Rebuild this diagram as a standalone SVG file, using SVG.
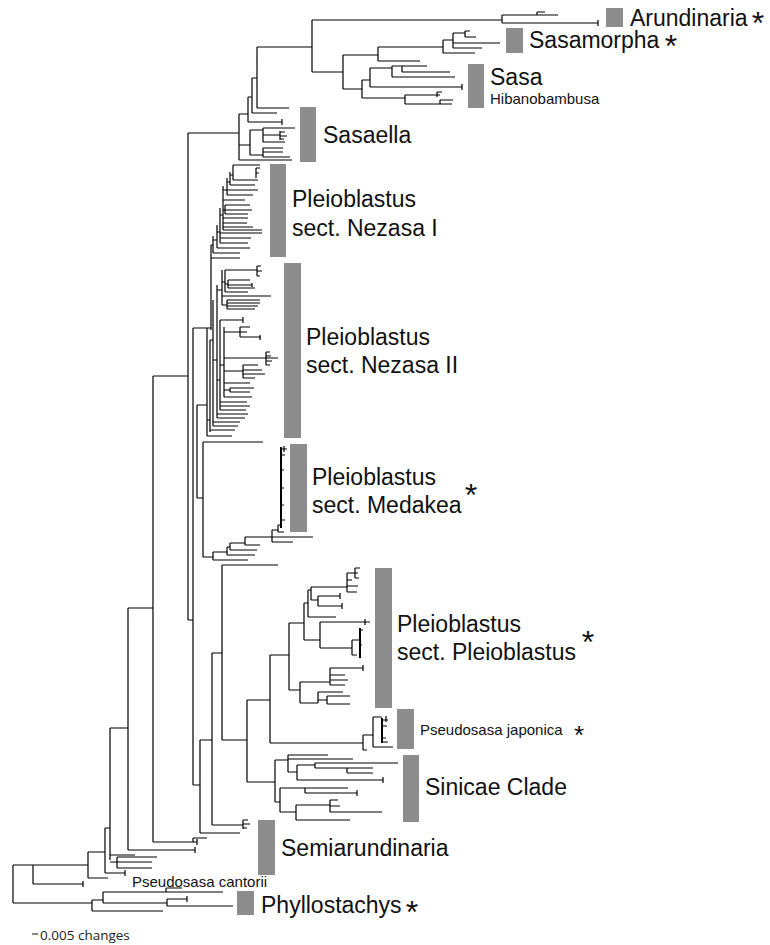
<svg xmlns="http://www.w3.org/2000/svg" width="770" height="945" viewBox="0 0 770 945">
<style>
.t{font-family:"Liberation Sans",Arial,sans-serif;font-size:23px;fill:#111}
.s{font-size:15px}
.a{font-size:32px;text-anchor:middle}
.bar{fill:#8c8c8c}
.tr{fill:none;stroke:#000;stroke-width:1.2}
.tk{fill:none;stroke:#000;stroke-width:2}
</style>
<rect width="770" height="945" fill="#fff"/>
<g id="connectors">
<path class="tr" d="M188 133H239M239 114V160M239 114H248M239 145H250M239 160H292M248 97V122M248 122H282M282 119V125M248 97H252M252 78V113M252 113H277M252 78H257M257 47V108M257 108H289M257 47H312M312 20V72M312 20H502M502 15V23M502 15H558M537 12V15M537 12H545M502 23H598M598 20V26M312 72H343M343 55V89M343 55H378M378 47V61M378 47H443M378 61H420M443 40V53M443 40H453M443 53H475M453 33V48M453 33H465M453 43H500M453 48H482M465 31V37M465 31H470M465 37H476M343 89H362M362 80V98M362 80H370M370 68V87M370 87H462M462 84V90M370 68H392M392 66V77M392 66H402M402 66V72M402 66H427M402 72H450M392 77H455M362 98H405M405 95V104M405 95H440M437 92V97M437 92H442M405 104H440M440 100V104M440 100H453M440 104H452"/>
<path class="tr" d="M250 130V155M250 130H263M263 128V142M263 128H295M263 135H280M280 131V140M280 132H285M280 136H287M280 139H284M263 142H285M250 155H263M263 148V157M263 148H283M263 152H283M263 157H290"/>
<path class="tr" d="M13 865V903M13 865H88M33 865V884M33 884H83M83 881V887M13 903H92M88 852V878M88 878H108M88 852H105M105 828V873M105 873H125M125 870V876M105 828H110M110 728V860M110 728H128M110 855H135M110 862H117M117 857V868M117 857H157M117 862H152M117 868H152M128 608V850M128 850H195M195 847V853M128 608H153M153 376V842M153 842H197M197 839V845M193 838V842M193 838H207M153 376H188M188 133V620M188 620H193M193 328V785M193 328H211M193 785H200"/>
<path class="tr" d="M211 245V330M211 258H240M211 245H213M213 236V253M213 253H240M213 240H217M217 225V248M217 248H250M217 232H220M220 208V243M220 243H248M220 238H251M220 233H262M220 215H223M223 186V230M223 230H262M223 227H253M223 223H247M223 218H248M223 200H245M223 210H225M225 205V214M225 205H250M225 210H252M225 214H248M223 190H227M227 178V195M227 195H253M227 190H258M227 182H230M230 172V185M230 185H255M230 175H233M233 165V180M233 165H260M233 180H258M256 168V178M256 168H260M256 173H259"/>
<path class="tr" d="M207 328V436M207 436H232M207 420H210M210 340V432M210 430H235M210 340H213M213 300V426M213 426H238M213 422H240M213 360H217M217 285V418M217 418H245M217 414H248M217 380H220M220 320V410M220 410H246M220 406H250M220 402H247M220 320H243M243 317V323M217 290H222M222 270V305M222 296H271M222 282H225M225 270V292M225 270H257M257 266V276M257 266H261M257 271H262M257 276H260M225 292H248M225 284H228M228 280V288M228 280H250M228 285H252M252 283V287M228 288H255M222 305H227M227 300V309M227 300H260M227 303H260M227 306H258M227 309H255M220 365H224M224 327V397M224 397H252M224 383H250M224 358H278M266 352V365M266 352H270M266 356H271M266 361H272M266 365H270M224 332H240M240 327V337M240 327H250M240 332H247M240 337H261M260 335V340M224 371H243M243 365V378M243 365H258M243 370H262M243 374H265M243 378H255M224 390H230M230 388V392M230 388H254M230 392H250"/>
<path class="tr" d="M197 405V498M197 405H207M197 498H203M203 442V557M203 442H263M203 557H213M213 552V560M213 560H248M213 552H227M227 547V555M227 555H255M227 547H230M230 543V550M230 550H257M230 543H245M245 537V545M245 545H260M245 537H313M272 530V542M272 542H293M272 530H278M278 525V532M278 532H284M278 525H281M281 449H287M284 446V452M281 455H285M281 470H284M281 488H284M281 505H284M281 520H285"/>
<path class="tk" d="M281 447V528"/>
<path class="tr" d="M200 740V833M200 833H240M200 740H212M212 653V825M212 825H243M243 820V829M243 820H248M243 824H250M243 828H247M212 653H222M222 565V740M222 565H278M222 740H247M247 700V782M247 700H270M247 782H275M270 655V743M270 655H289M270 743H363"/>
<path class="tr" d="M289 623V690M289 623H304M289 690H300M304 603V640M304 603H308M304 640H320M308 590V617M308 590H311M308 617H336M311 587V600M311 587H347M311 600H318M318 596V606M318 596H340M340 593V599M318 606H342M342 603V609M347 573V592M347 573H355M355 568V578M355 568H360M355 573H358M355 578H359M347 580H352M347 586H358M347 592H357M320 622V648M320 622H370M365 619V625M320 648H352M352 640V655M352 640H360M352 655H357M360 630H363M360 645H362M300 682V703M300 682H330M300 703H318M330 668V685M330 668H363M363 665V671M330 675H345M330 680H348M330 685H345M318 692V703M318 692H343M318 700H327M327 696V704M327 696H350M327 704H350"/>
<path class="tk" d="M360 628V658"/>
<path class="tr" d="M363 735V750M363 735H373M363 750H367M373 717V747M373 747H393M373 717H382M382 720H388M386 716V722M382 726H387M382 738H386M382 742H388"/>
<path class="tk" d="M382 718V743"/>
<path class="tr" d="M275 760V802M275 760H288M275 802H280M288 755V772M288 755H328M288 759H353M288 772H297M297 765V780M297 765H315M297 780H383M383 777V783M315 763V768M315 763H398M315 768H373M347 768V773M347 773H373M280 788V812M280 788H348M305 788V793M305 793H357M357 790V796M280 812H296M296 805V820M296 805H330M330 800V812M330 800H338M330 806H340M330 812H382M296 820H350"/>
<path class="tr" d="M92 900V911M92 900H103M92 911H163M103 892V903M103 892H223M166 888V892M166 888H182M103 903H167M167 899V906M167 899H187M187 896V902M167 906H233"/>
</g>
<g id="arundinaria"><rect class="bar" x="606" y="8" width="17" height="19"/><text class="t" x="630" y="26">Arundinaria</text><text class="t a" x="758" y="34">*</text></g>
<g id="sasamorpha"><rect class="bar" x="506" y="28" width="17" height="25"/><text class="t" x="529" y="48">Sasamorpha</text><text class="t a" x="671" y="57">*</text></g>
<g id="sasa"><rect class="bar" x="468" y="64" width="16" height="44"/><text class="t" x="490" y="85">Sasa</text><text class="t s" x="490" y="104">Hibanobambusa</text></g>
<g id="sasaella"><rect class="bar" x="300" y="107" width="16" height="55"/><text class="t" x="323" y="143">Sasaella</text></g>
<g id="nezasa1"><rect class="bar" x="270" y="164" width="16" height="93"/><text class="t" x="292" y="207">Pleioblastus</text><text class="t" x="292" y="236">sect. Nezasa I</text></g>
<g id="nezasa2"><rect class="bar" x="284" y="263" width="17" height="175"/><text class="t" x="306" y="345">Pleioblastus</text><text class="t" x="306" y="373">sect. Nezasa II</text></g>
<g id="medakea"><rect class="bar" x="290" y="444" width="17" height="88"/><text class="t" x="312" y="485">Pleioblastus</text><text class="t" x="312" y="513">sect. Medakea</text><text class="t a" x="471" y="506">*</text></g>
<g id="pleioblastus"><rect class="bar" x="375" y="568" width="17" height="140"/><text class="t" x="397" y="632">Pleioblastus</text><text class="t" x="397" y="660">sect. Pleioblastus</text><text class="t a" x="588" y="653">*</text></g>
<g id="pjaponica"><rect class="bar" x="397" y="709" width="17" height="40"/><text class="t s" x="420" y="735">Pseudosasa japonica</text><text class="t a" x="579" y="744" style="font-size:26px">*</text></g>
<g id="sinicae"><rect class="bar" x="403" y="755" width="16" height="67"/><text class="t" x="425" y="795">Sinicae Clade</text></g>
<g id="semiarundinaria"><rect class="bar" x="258" y="820" width="17" height="55"/><text class="t" x="281" y="856">Semiarundinaria</text></g>
<g id="pcantorii"><text class="t s" x="132" y="887">Pseudosasa cantorii</text></g>
<g id="phyllostachys"><rect class="bar" x="237" y="891" width="17" height="24"/><text class="t" x="261" y="913">Phyllostachys</text><text class="t a" x="412" y="923">*</text></g>
<g id="scale"><path d="M32 934H38" stroke="#333" stroke-width="1.2"/><text x="40" y="940" style="font-family:'Open Sans','Liberation Sans',sans-serif;font-size:13.5px;fill:#222">0.005 changes</text></g>
</svg>
